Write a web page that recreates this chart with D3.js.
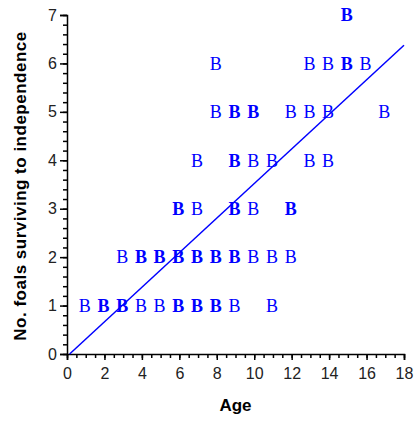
<!DOCTYPE html>
<html lang="en">
<head>
  <meta charset="utf-8" />
  <style>
    body { margin: 0; background: #fff; }
    .tick text { font-family: "Liberation Sans", Arial, sans-serif; font-size: 16px; fill: #222; }
    .axis path, .axis line { stroke: #000; }
    .title { font-family: "Liberation Sans", Arial, sans-serif; font-size: 17px; font-weight: bold; fill: #000; }
    .mark { font-family: "Liberation Serif", "Times New Roman", serif; font-size: 18px; fill: #0000ff; }
  </style>
</head>
<body>
<svg width="419" height="421"></svg>
<script src="https://d3js.org/d3.v7.min.js"></script>
<script>
// one entry per plotted position; count > 1 means overlapping points (drawn bold)
var ages   = [1, 2, 3, 4, 5, 6, 7, 8, 9, 11,
              3, 4, 5, 6, 7, 8, 9, 10, 11, 12,
              6, 7, 9, 10, 12,
              7, 9, 10, 11, 13, 14,
              8, 9, 10, 12, 13, 14, 17,
              8, 13, 14, 15, 16,
              15];
var foals  = [1, 1, 1, 1, 1, 1, 1, 1, 1, 1,
              2, 2, 2, 2, 2, 2, 2, 2, 2, 2,
              3, 3, 3, 3, 3,
              4, 4, 4, 4, 4, 4,
              5, 5, 5, 5, 5, 5, 5,
              6, 6, 6, 6, 6,
              7];
var counts = [1, 2, 2, 1, 1, 2, 2, 2, 1, 1,
              1, 2, 2, 2, 2, 2, 2, 1, 1, 1,
              2, 1, 2, 1, 2,
              1, 2, 1, 1, 1, 1,
              1, 2, 2, 1, 1, 1, 1,
              1, 1, 1, 2, 1,
              2];

var xTicks = d3.range(0, 19, 2);
var yTicks = d3.range(0, 8, 1);

// fitted line: foals = intercept + slope * age
var slope = 0.357, intercept = -0.05;

var svg = d3.select("svg"),
    margin = {left: 67, right: 15, top: 15, bottom: 67},
    width = 419 - margin.left - margin.right,
    height = 421 - margin.top - margin.bottom;

var x = d3.scaleLinear().domain([0, 18]).range([margin.left, margin.left + width]);
var y = d3.scaleLinear().domain([0, 7]).range([margin.top + height, margin.top]);

// minor ticks
var gx = svg.append("g").attr("class", "axis")
  .attr("transform", "translate(0," + y(0) + ")");
gx.call(d3.axisBottom(x).tickValues(d3.range(0, 18.01, 0.5)).tickSize(4).tickFormat(""));
gx.call(function(g) { g.select(".domain").remove(); });
gx.append("g").call(d3.axisBottom(x).tickValues(xTicks).tickSize(6).tickPadding(8).tickFormat(d3.format("d")));
gx.selectAll("path, line").attr("stroke-width", 1.5);

var gy = svg.append("g").attr("class", "axis")
  .attr("transform", "translate(" + x(0) + ",0)");
gy.call(d3.axisLeft(y).tickValues(d3.range(0, 7.01, 0.2)).tickSize(4).tickFormat(""));
gy.call(function(g) { g.select(".domain").remove(); });
gy.append("g").call(d3.axisLeft(y).tickValues(yTicks).tickSize(7).tickPadding(3).tickFormat(d3.format("d")));
gy.selectAll("path, line").attr("stroke-width", 1.5);

// regression line
var x0 = -intercept / slope;
svg.append("line")
  .attr("x1", x(x0)).attr("y1", y(0))
  .attr("x2", x(18)).attr("y2", y(intercept + slope * 18))
  .attr("stroke", "#0000ff")
  .attr("stroke-width", 1.5);

// points
svg.append("g").selectAll("text")
  .data(d3.range(ages.length))
  .enter()
  .append("text")
  .attr("class", "mark")
  .attr("x", function(i) { return x(ages[i]) - 1; })
  .attr("y", function(i) { return y(foals[i]); })
  .attr("dy", "0.35em")
  .attr("text-anchor", "middle")
  .style("font-weight", function(i) { return counts[i] > 1 ? "bold" : "normal"; })
  .text("B");

svg.append("text")
  .attr("class", "title")
  .attr("x", x(9))
  .attr("y", 411)
  .attr("text-anchor", "middle")
  .text("Age");

svg.append("text")
  .attr("class", "title")
  .attr("transform", "translate(26,186) rotate(-90)")
  .attr("text-anchor", "middle")
  .style("letter-spacing", "0.5px")
  .text("No. foals surviving to independence");
</script>
</body>
</html>
